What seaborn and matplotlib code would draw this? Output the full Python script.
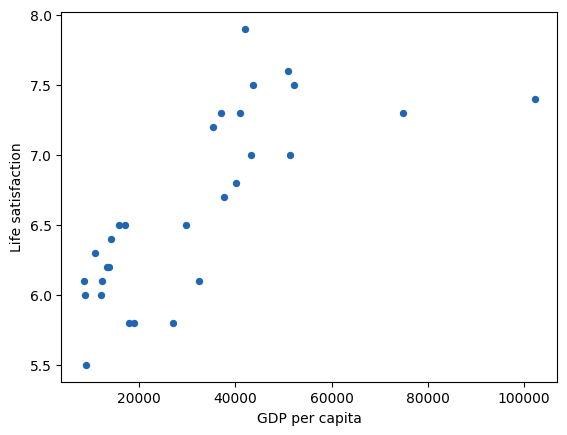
import pandas as pd
import matplotlib
matplotlib.use("Agg")
import matplotlib.pyplot as plt
import seaborn as sns

gdp_per_capita = [
    8521, 8791, 8998, 10866, 12112, 12319, 13233, 13648, 14188,
    15848, 17176, 17924, 19045, 27057, 29755, 32454,
    35360, 37020, 37643, 40217, 40964, 42002, 43247, 43663,
    50927, 51343, 52173, 74798, 102197,
]
life_satisfaction = [
    6.1, 6.0, 5.5, 6.3, 6.0, 6.1, 6.2, 6.2, 6.4,
    6.5, 6.5, 5.8, 5.8, 5.8, 6.5, 6.1,
    7.2, 7.3, 6.7, 6.8, 7.3, 7.9, 7.0, 7.5,
    7.6, 7.0, 7.5, 7.3, 7.4,
]

data = pd.DataFrame({"GDP per capita": gdp_per_capita,
                     "Life satisfaction": life_satisfaction})

plt.rcParams["font.family"] = ["DejaVu Sans"]
fig, ax = plt.subplots(figsize=(6.4, 4.8), dpi=100)

sns.scatterplot(data=data, x="GDP per capita", y="Life satisfaction",
                color="#2166b3", s=28, linewidth=0, ax=ax)

fig.savefig("out.png", dpi=100, bbox_inches="tight")
